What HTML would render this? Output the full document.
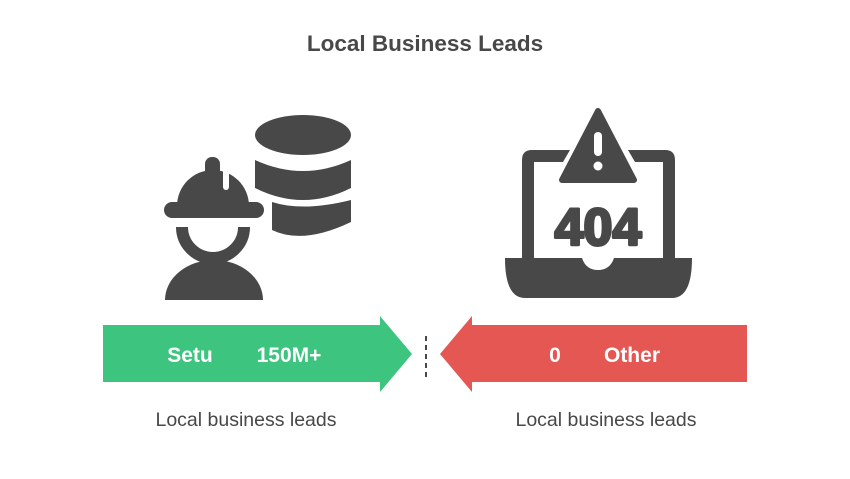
<!DOCTYPE html>
<html><head><style>
body{margin:0;background:#fff;}
svg{display:block;font-family:"Liberation Sans",sans-serif;}
</style></head><body>
<svg width="850" height="479" viewBox="0 0 850 479">
<text x="425" y="51" text-anchor="middle" font-size="22.5" font-weight="bold" fill="#484848">Local Business Leads</text>
<!-- database -->
<g fill="#484848">
<ellipse cx="303" cy="135" rx="48" ry="20"/>
<path d="M255 160 Q303 182 351 160 L351 188 Q303 212 255 188 Z"/>
<path d="M272 202 Q303 212 351 200 L351 222 Q303 245 272 230 Z"/>
</g>
<!-- worker -->
<g fill="#484848">
<path d="M177 206 A36 36 0 0 1 249 206 Z"/>
<rect x="205" y="157" width="15" height="40" rx="7"/>
<rect x="164" y="202" width="100" height="16" rx="8"/>
<path d="M182 227 A31 31 0 0 0 244 227" fill="none" stroke="#484848" stroke-width="12"/>
<path d="M165 300 A49 40 0 0 1 263 300 Z"/>
</g>
<line x1="226" y1="170" x2="226" y2="187" stroke="#fff" stroke-width="6" stroke-linecap="round"/>
<!-- laptop -->
<g fill="#484848">
<path d="M570 150 L532 150 Q522 150 522 160 L522 262 L534 262 L534 162 L563 162 Z"/>
<path d="M628 150 L665 150 Q675 150 675 160 L675 262 L663 262 L663 162 L635 162 Z"/>
<path d="M505 258 L582 258 Q586 270 598 270 Q610 270 614 258 L692 258 Q692 298 672 298 L525 298 Q505 298 505 258 Z"/>
<path d="M598 111 L634 180 L562 180 Z" stroke="#484848" stroke-width="6" stroke-linejoin="round"/>
<rect x="594" y="132" width="8" height="24" rx="4" fill="#fff"/>
<circle cx="598" cy="166" r="4.5" fill="#fff"/>
<text x="598" y="245" text-anchor="middle" font-size="52" font-weight="bold" stroke="#484848" stroke-width="3" stroke-linejoin="round">404</text>
</g>
<!-- arrows -->
<path d="M103 325 L380 325 L380 316 L412 354 L380 392 L380 382 L103 382 Z" fill="#3dc47e"/>
<text x="190" y="362" text-anchor="middle" font-size="21" font-weight="bold" fill="#fff">Setu</text>
<text x="289" y="362" text-anchor="middle" font-size="21" font-weight="bold" fill="#fff">150M+</text>
<path d="M747 325 L472 325 L472 316 L440 354 L472 392 L472 382 L747 382 Z" fill="#e55753"/>
<text x="555" y="362" text-anchor="middle" font-size="21" font-weight="bold" fill="#fff">0</text>
<text x="632" y="362" text-anchor="middle" font-size="21" font-weight="bold" fill="#fff">Other</text>
<line x1="426" y1="336" x2="426" y2="380" stroke="#484848" stroke-width="2" stroke-dasharray="5,4"/>
<text x="246" y="426" text-anchor="middle" font-size="19.5" fill="#484848">Local business leads</text>
<text x="606" y="426" text-anchor="middle" font-size="19.5" fill="#484848">Local business leads</text>
</svg>
</body></html>
